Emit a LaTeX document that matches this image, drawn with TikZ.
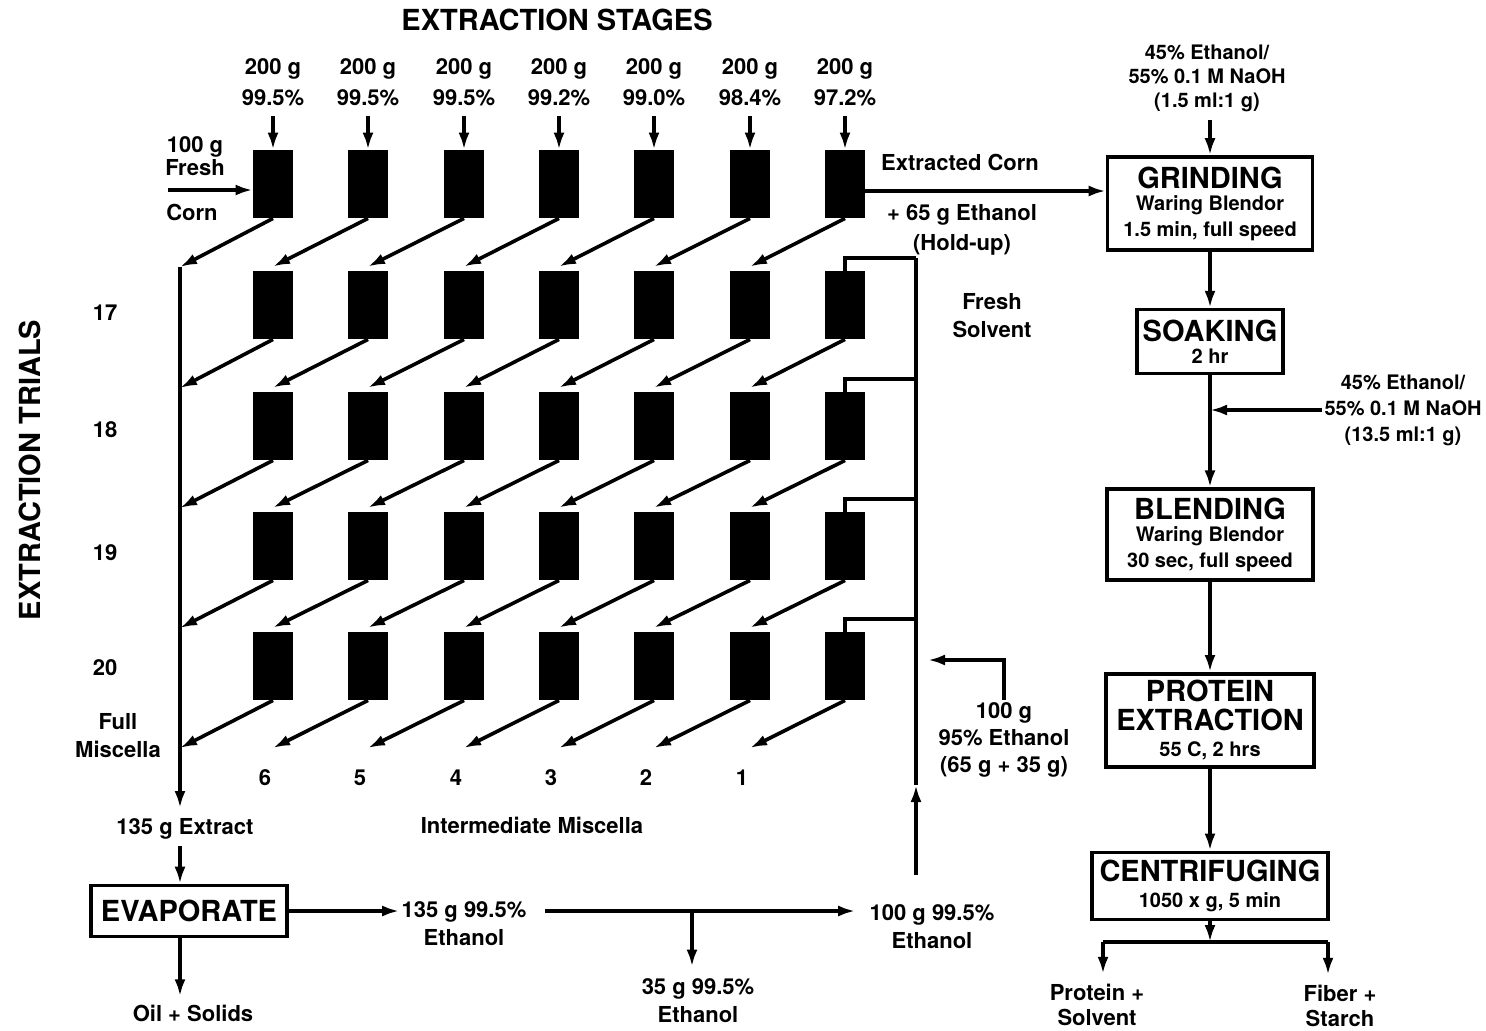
\documentclass[tikz,border=0pt]{standalone}
\usepackage{fontspec}
\setmainfont{TeX Gyre Heros}
\usetikzlibrary{arrows.meta,positioning}
\definecolor{ink}{RGB}{0,0,0}
\newcommand{\boxtitle}[1]{{\fontsize{14.5}{15}\selectfont #1}}
\tikzset{
  flow/.style={-{Latex[length=8.5pt,width=5.5pt]},line width=1.8pt,draw=ink},
  wire/.style={line width=1.8pt,draw=ink},
  cell/.style={fill=ink,draw=none,minimum width=20pt,minimum height=34pt,inner sep=0pt},
  unit/.style={draw=ink,line width=1.8pt,align=center,inner sep=2pt,font=\bfseries\fontsize{10}{13}\selectfont},
  lbl/.style={align=center,inner sep=1pt,font=\bfseries\fontsize{11}{14}\selectfont},
  feed/.style={lbl,font=\bfseries\fontsize{11}{15.5}\selectfont},
  big/.style={inner sep=1pt,font=\bfseries\fontsize{14.5}{15}\selectfont}
}
\begin{document}
\begin{tikzpicture}[x=0.5pt,y=-0.5pt]
  \useasboundingbox (0,0) rectangle (1486,1030);
  \node[big] (hdr) at (557,20) {EXTRACTION STAGES};
  \node[big,rotate=90] (side) at (30,470) {EXTRACTION TRIALS};
  % extraction grid
  \foreach \row/\y in {0/184,1/305,2/426,3/546,4/666}
    \foreach \col/\x in {1/273,2/368,3/464,4/559,5/654,6/750,7/845}
      \node[cell] (b-\row-\col) at (\x,\y) {};
  \foreach \col/\x/\pc in {1/273/99.5,2/368/99.5,3/464/99.5,4/559/99.2,5/654/99.0,6/750/98.4,7/845/97.2}{
    \node[feed] (f-\col) at (\x,82) {200 g\\\pc\%};
    \draw[flow,shorten <=4pt] (f-\col) -- (b-0-\col);
  }
  \foreach \n/\y in {1/267,2/388,3/508,4/628,5/748} \coordinate (j-\n) at (180,\y);
  \coordinate (j-x) at (180,808);
  \foreach \row [evaluate=\row as \nxt using int(\row+1)] in {0,...,3}{
    \draw[flow] (b-\row-1.south) -- (j-\nxt);
    \foreach \col [evaluate=\col as \prv using int(\col-1)] in {2,...,7}
      \draw[flow] (b-\row-\col.south) -- ([yshift=2pt]b-\nxt-\prv.north);
  }
  \draw[flow] (b-4-1.south) -- (j-5);
  \foreach \col/\x in {2/273,3/368,4/464,5/559,6/654,7/750}{
    \pgfmathtruncatemacro{\k}{8-\col}
    \coordinate (e-\col) at (\x,748);
    \draw[flow] (b-4-\col.south) -- (e-\col);
    \node[lbl] (n-\k) at (\x-8,778) {\k};
  }
  \draw[flow] (j-1) -- (j-x);
  % fresh corn in, extracted corn out
  \node[lbl,font=\bfseries\fontsize{11}{11.5}\selectfont] (fc) at (195,156) {100 g\\Fresh};
  \node[lbl] (cn) at (192,212) {Corn};
  \coordinate (c-in) at (168,190);
  \draw[flow] (c-in) -- (c-in -| b-0-1.west);
  \node[lbl] (xc) at (960,162) {Extracted Corn};
  \node[lbl,font=\bfseries\fontsize{11}{15}\selectfont] (hu) at (962,230) {+ 65 g Ethanol\\(Hold-up)};
  \foreach \tr/\y in {17/313,18/430,19/553,20/668} \node[lbl] (t-\tr) at (105,\y) {\tr};
  \node[lbl] (fm) at (118,736) {Full\\Miscella};
  \node[lbl] (im) at (532,825) {Intermediate Miscella};
  % fresh solvent
  \coordinate (k-0) at (916,875); \coordinate (k-1) at (916,785); \coordinate (k-2) at (916,258);
  \draw[flow] (k-0) -- (k-1); \draw[wire] (k-1) -- (k-2);
  \foreach \row/\y in {1/258,2/379,3/499,4/619}{
    \coordinate (s-\row) at (916,\y);
    \draw[wire] (s-\row) -| (b-\row-7.north);
  }
  \node[lbl] (fs) at (992,316) {Fresh\\Solvent};
  \node[lbl,font=\bfseries\fontsize{11}{13.5}\selectfont] (make) at (1004,740) {100 g\\95\% Ethanol\\(65 g + 35 g)};
  \coordinate (k-3) at (928,660);
  \draw[flow] (make.north) |- (k-3);
  % evaporation
  \node[lbl] (xt) at (185,829) {135 g Extract};
  \node[unit,minimum width=98pt,minimum height=25.5pt] (evap) at (189,911) {\boxtitle{EVAPORATE}};
  \node[lbl] (oil) at (193,1013) {Oil + Solids};
  \draw[flow,shorten <=2pt] (xt.south -| j-x) -- (evap.north -| j-x);
  \draw[flow,shorten >=3pt] (evap.south -| j-x) -- (oil.north -| j-x);
  \node[lbl] (e-1) at (464,924) {135 g 99.5\%\\Ethanol};
  \node[lbl] (e-2) at (932,927) {100 g 99.5\%\\Ethanol};
  \node[lbl] (e-3) at (698,1001) {35 g 99.5\%\\Ethanol};
  \draw[flow] (evap.east) -- (evap.east -| e-1.west);
  \draw[flow,shorten <=8pt,shorten >=6pt] (evap.east -| e-1.east) -- (evap.east -| e-2.west);
  \coordinate (j-e) at (692,912);
  \draw[flow,shorten >=5pt] (j-e) -- (j-e |- e-3.north);
  % protein line
  \node[lbl,font=\bfseries\fontsize{10}{12}\selectfont] (sol-a) at (1207,78) {45\% Ethanol/\\55\% 0.1 M NaOH\\(1.5 ml:1 g)};
  \node[unit,minimum width=102.5pt,minimum height=46.5pt] (grind) at (1210,203.5) {\boxtitle{GRINDING}\\[-2pt]Waring Blendor\\1.5 min, full speed};
  \node[unit,below=28pt of grind,minimum width=73pt,minimum height=32pt] (soak) {\boxtitle{SOAKING}\\[-2pt]2 hr};
  \node[unit,below=56pt of soak,minimum width=103pt,minimum height=45.5pt] (blend) {\boxtitle{BLENDING}\\[-2pt]Waring Blendor\\30 sec, full speed};
  \node[unit,below=45pt of blend,minimum width=104pt,minimum height=46.5pt] (prot) {\boxtitle{PROTEIN}\\[1.5pt]\boxtitle{EXTRACTION}\\55 C, 2 hrs};
  \node[unit,below=41pt of prot,minimum width=118pt,minimum height=33.5pt] (cent) {\boxtitle{CENTRIFUGING}\\1050 x g, 5 min};
  \node[lbl,font=\bfseries\fontsize{10}{13}\selectfont] (sol-b) at (1403,410) {45\% Ethanol/\\55\% 0.1 M NaOH\\(13.5 ml:1 g)};
  \coordinate (c-out) at (864,191);
  \draw[flow] (c-out) -- (c-out -| grind.west);
  \draw[flow,shorten <=3pt] (sol-a.south -| grind.north) -- (grind.north);
  \draw[flow] (grind) -- (soak); \draw[flow] (soak) -- (blend); \draw[flow] (blend) -- (prot); \draw[flow] (prot) -- (cent);
  \draw[flow] (sol-b.west) -- (sol-b.west -| soak.south);
  \coordinate (q-0) at (1210,942); \coordinate (q-l) at (1103,942); \coordinate (q-r) at (1328,942);
  \draw[flow] (cent) -- (q-0); \draw[wire] (q-l) -- (q-r);
  \node[lbl,font=\bfseries\fontsize{11}{12.5}\selectfont] (po) at (1097,1005) {Protein +\\Solvent};
  \node[lbl,font=\bfseries\fontsize{11}{12.5}\selectfont] (fb) at (1340,1006) {Fiber +\\Starch};
  \draw[flow,shorten >=4pt] (q-l) -- (q-l |- po.north);
  \draw[flow,shorten >=4pt] (q-r) -- (q-r |- fb.north);
\end{tikzpicture}
\end{document}
